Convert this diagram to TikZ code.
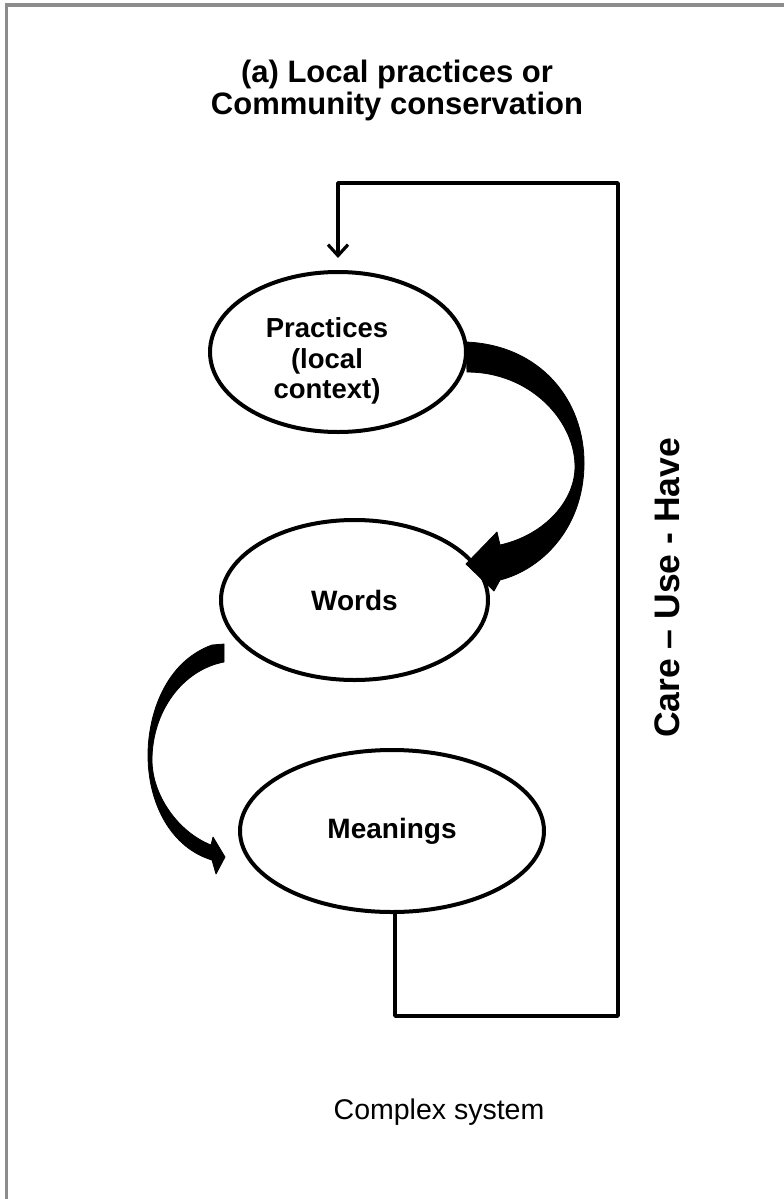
\documentclass[tikz,border=0pt]{standalone}
\usepackage{fontspec}
\setmainfont{Liberation Sans}
\usetikzlibrary{arrows.meta,shapes.geometric}
\begin{document}
\begin{tikzpicture}[x=1pt,y=-1pt,
  bubble/.style={draw=black, line width=4pt, ellipse, inner sep=0pt, align=center,
    font=\bfseries\fontsize{28}{30.5}\selectfont},
  loopline/.style={line width=3.4pt, line join=round},
  fatarrow/.style={fill=black, draw=black, line width=0.8pt, line join=round}]
\useasboundingbox (0,0) rectangle (784,1199);
\draw[black!45, line width=3.5pt] (6.5,1199) -- (6.5,5) -- (784,5);
% title
\node[align=center, font=\bfseries\fontsize{31}{32}\selectfont] (title) at (397,90)
  {(a) Local practices or\\Community conservation};
% ellipses
\node[bubble, minimum width=256pt, minimum height=160pt] (P) at (338,352) {};
\node[font=\bfseries\fontsize{27.5}{30.5}\selectfont, align=center] (Pt) at (327,361) {Practices\\(local\\context)};
\node[bubble, minimum width=267pt, minimum height=160pt] (W) at (354.5,600) {Words};
\node[bubble, minimum width=304pt, minimum height=162pt] (M) at (392,831) {Meanings};
% side label
\node[rotate=90, font=\bfseries\fontsize{35.5}{40}\selectfont] (cuh) at (667,588) {Care – Use - Have};
\node[font=\fontsize{28.5}{30}\selectfont] (cs) at (439,1112) {Complex system};
% feedback loop
\coordinate (b1) at (395,1016);
\coordinate (b2) at (618,183);
\draw[loopline, -{Straight Barb[length=11pt,width=20pt,line width=3.2pt]}]
  (M.south -| b1) -- (b1) -| (b2) -| ([yshift=12pt]P.north);
% big curved arrow Practices -> Words
\filldraw[fatarrow] (466,342) .. controls (540,345) and (585,400) .. (584,465)
  .. controls (583,530) and (540,570) .. (500,580)
  -- (494,591) -- (466,564) -- (497,532) -- (500,545)
  .. controls (545,535) and (576,500) .. (575,465)
  .. controls (574,420) and (530,372) .. (467,372) -- cycle;
% left curved arrow Words -> Meanings
\filldraw[fatarrow] (224,644) -- (212,645)
  .. controls (165,662) and (148,715) .. (148,755)
  .. controls (148,805) and (172,848) .. (212,860)
  -- (216,874) -- (225,857) -- (213,837) -- (211,845)
  .. controls (178,832) and (152,795) .. (152,760)
  .. controls (152,712) and (182,670) .. (224,662) -- cycle;
\end{tikzpicture}
\end{document}
